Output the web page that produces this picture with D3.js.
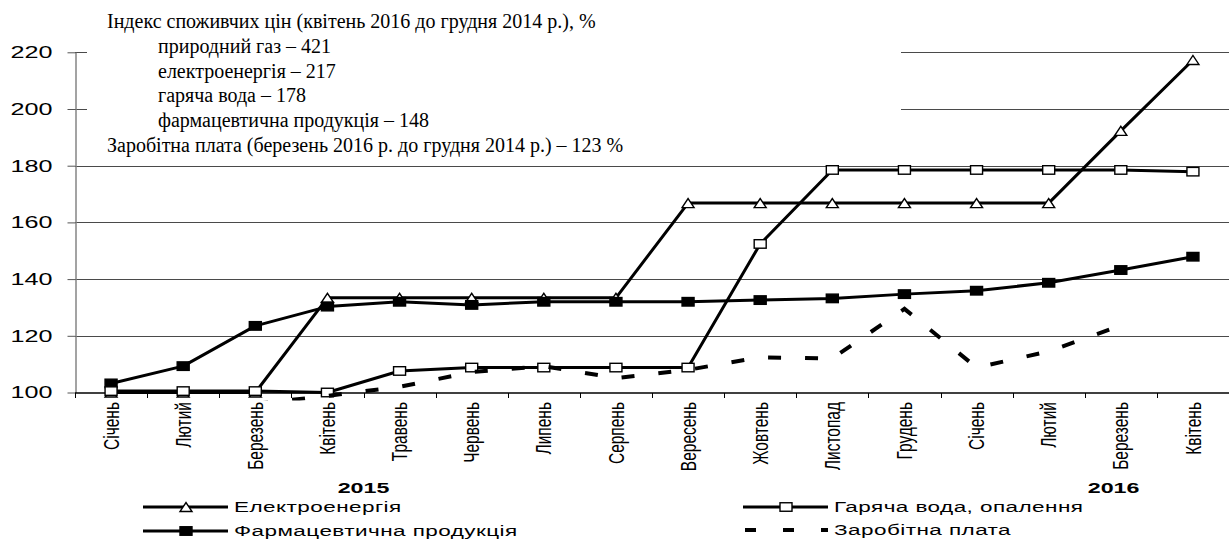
<!DOCTYPE html>
<html><head><meta charset="utf-8">
<script src="https://cdn.jsdelivr.net/npm/d3@7"></script>
<style>body{margin:0;background:#fff}svg{display:block}</style>
</head><body><svg id="c" width="1229" height="541"></svg>
<script>
const months = ["Січень","Лютий","Березень","Квітень","Травень","Червень","Липень","Серпень","Вересень","Жовтень","Листопад","Грудень","Січень","Лютий","Березень","Квітень"];
const electricity = [100,100,100,133.4,133.4,133.4,133.4,133.4,166.8,166.8,166.8,166.8,166.8,166.8,192.3,217.3];
const hotWater = [100.5,100.5,100.5,100,107.6,108.8,108.8,108.8,108.8,152.4,178.5,178.5,178.5,178.5,178.5,177.9];
const pharma = [103.2,109.3,123.5,130.3,132,130.9,132,132,132,132.6,133.2,134.7,135.9,138.7,143.2,147.9];
const wage = [null,null,96,98.8,102,107.2,109.3,105.1,108,112.4,112,129.5,108.8,114.5,123.6,null];
const yTicks = [100,120,140,160,180,200,220];
const years = [{label:"2015", at:3.5},{label:"2016", at:13.9}];
const noteLines = [
  {t:"Індекс споживчих цін (квітень 2016 до грудня 2014 р.), %", indent:false},
  {t:"природний газ – 421", indent:true},
  {t:"електроенергія – 217", indent:true},
  {t:"гаряча вода – 178", indent:true},
  {t:"фармацевтична продукція – 148", indent:true},
  {t:"Заробітна плата (березень 2016 р. до грудня 2014 р.) – 123 %", indent:false}
];
const legendNames = {elec:"Електроенергія", hot:"Гаряча вода, опалення", pharma:"Фармацевтична продукція", wage:"Заробітна плата"};

const SANS = "'Liberation Sans', Arial, sans-serif";
const SERIF = "'Liberation Serif', 'Times New Roman', serif";
const svg = d3.select("#c");
const x = d3.scaleBand().domain(d3.range(months.length)).range([75,1229]);
const cx = i => x(i) + x.bandwidth()/2;
const y = d3.scaleLinear().domain([100,220]).range([392.5,52.3]);

// gridlines
svg.append("g").selectAll("line").data(yTicks.slice(1)).join("line")
  .attr("x1",75).attr("x2",1229)
  .attr("y1",d=>Math.round(y(d))+0.5).attr("y2",d=>Math.round(y(d))+0.5)
  .attr("stroke","#4a4a4a").attr("stroke-width",1);

// annotation box (white) covering upper gridlines
svg.append("rect").attr("x",87).attr("y",0).attr("width",814).attr("height",160).attr("fill","#fff");
const noteY0 = 28, noteStep = 24.8;
svg.append("g").selectAll("text").data(noteLines).join("text")
  .attr("x",d=>d.indent?158:107).attr("y",(d,i)=>noteY0+i*noteStep)
  .attr("font-family",SERIF).attr("font-size",20).attr("fill","#000")
  .text(d=>d.t);

// y axis
const yAxis = d3.axisLeft(y).tickValues(yTicks).tickSize(8).tickSizeOuter(0).tickFormat(d3.format("d"));
const ga = svg.append("g").attr("transform","translate(75.5,0)").call(yAxis);
ga.select(".domain").attr("stroke","#858585").attr("stroke-width",1.5);
ga.selectAll(".tick line").attr("stroke","#555");
ga.selectAll(".tick text").attr("x",-23/1.5).attr("dy",null).attr("dominant-baseline","central")
  .attr("transform","scale(1.5,1)").attr("font-family",SANS).attr("font-size",16.8).attr("fill","#000");
ga.attr("font-family",null).attr("font-size",null);

// x axis
svg.append("line").attr("x1",75).attr("x2",1229).attr("y1",393).attr("y2",393).attr("stroke","#000").attr("stroke-width",1.3);
svg.append("g").selectAll("line").data(d3.range(months.length+1)).join("line")
  .attr("x1",i=>Math.round(i<months.length?x(i):x(months.length-1)+x.bandwidth())+0.5)
  .attr("x2",i=>Math.round(i<months.length?x(i):x(months.length-1)+x.bandwidth())+0.5)
  .attr("y1",393).attr("y2",398).attr("stroke","#000").attr("stroke-width",1);
svg.append("g").selectAll("text").data(months).join("text")
  .attr("transform",(d,i)=>`translate(${cx(i)},402) rotate(-90) scale(1,1.45)`)
  .attr("text-anchor","end").attr("dominant-baseline","central")
  .attr("font-family",SANS).attr("font-size",15.5).attr("fill","#000").text(d=>d);
svg.append("g").selectAll("text").data(years).join("text")
  .attr("transform",d=>`translate(${cx(0)+x.step()*d.at},488) scale(1.5,1)`)
  .attr("text-anchor","middle").attr("dominant-baseline","central")
  .attr("font-family",SANS).attr("font-weight","bold").attr("font-size",15.5).attr("fill","#000").text(d=>d.label);

// series
const plot = svg.append("g");
svg.append("clipPath").attr("id","clip").append("rect").attr("x",75).attr("y",0).attr("width",1154).attr("height",400.5);
const line = d3.line().defined(d=>d!=null).x((d,i)=>cx(i)).y(d=>y(d));
const TRI = "M-6,4.5L6,4.5L0,-4.5Z";
function drawSeries(vals, marker){
  plot.append("path").datum(vals).attr("d",line).attr("fill","none").attr("stroke","#000").attr("stroke-width",3).attr("stroke-linejoin","round");
  const g = plot.append("g");
  vals.forEach((v,i)=>{
    if(v==null) return;
    if(marker==="tri"){
      g.append("path").attr("d",TRI).attr("transform",`translate(${cx(i)},${y(v)})`).attr("fill","#fff").attr("stroke","#000").attr("stroke-width",1.4);
    } else {
      g.append("rect").attr("x",cx(i)-6).attr("y",y(v)-4.25).attr("width",12).attr("height",8.5)
        .attr("fill",marker==="sqB"?"#000":"#fff").attr("stroke","#000").attr("stroke-width",1.4);
    }
  });
}
drawSeries(electricity,"tri");
drawSeries(pharma,"sqB");
drawSeries(hotWater,"sqW");
plot.append("path").datum(wage).attr("d",line).attr("clip-path","url(#clip)")
  .attr("fill","none").attr("stroke","#000").attr("stroke-width",4).attr("stroke-dasharray","13,24");

// legend
const leg = svg.append("g");
function legItem(x1,x2,mx,yy,kind,label){
  if(kind==="dash"){
    leg.append("line").attr("x1",x1).attr("x2",x2).attr("y1",yy).attr("y2",yy).attr("stroke","#000").attr("stroke-width",4).attr("stroke-dasharray","11,27");
  } else {
    leg.append("line").attr("x1",x1).attr("x2",x2).attr("y1",yy).attr("y2",yy).attr("stroke","#000").attr("stroke-width",3);
    if(kind==="tri") leg.append("path").attr("d",TRI).attr("transform",`translate(${mx},${yy})`).attr("fill","#fff").attr("stroke","#000").attr("stroke-width",1.4);
    else leg.append("rect").attr("x",mx-6).attr("y",yy-4.25).attr("width",12).attr("height",8.5).attr("fill",kind==="sqB"?"#000":"#fff").attr("stroke","#000").attr("stroke-width",1.4);
  }
  leg.append("text").attr("transform",`translate(${x2+6},${yy}) scale(1.5,1)`).attr("dominant-baseline","central")
    .attr("font-family",SANS).attr("font-size",15).attr("letter-spacing",0.3).attr("fill","#000").text(label);
}
legItem(143,228,186,507,"tri",legendNames.elec);
legItem(143,228,186,531,"sqB",legendNames.pharma);
legItem(743,828,786,507,"sqW",legendNames.hot);
legItem(745,828,0,530,"dash",legendNames.wage);
</script></body></html>
